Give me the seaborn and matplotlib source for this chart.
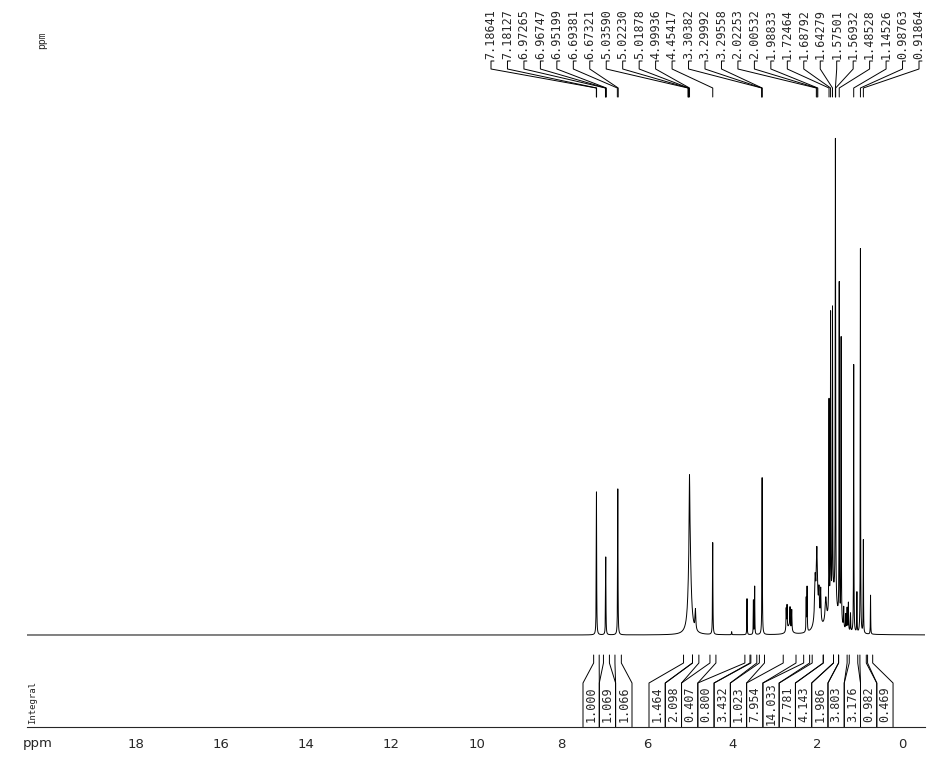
import numpy as np
import pandas as pd
import matplotlib
matplotlib.use("Agg")
import matplotlib.pyplot as plt
import seaborn as sns

# peak table: position (ppm), height (baseline = 0), half width (ppm)
peak_ppm = [7.184, 6.966, 6.683, 4.995, 5.000, 4.86, 4.455, 4.01,
            3.65, 3.50, 3.47, 3.295,
            2.73, 2.71, 2.64, 2.60, 2.66, 2.26, 2.24,
            2.05, 2.01, 1.96, 1.92, 2.00,
            1.80, 1.7246, 1.6879, 1.6428, 1.5750, 1.5693, 1.4853, 1.44, 1.62,
            1.38, 1.33, 1.30, 1.27, 1.22, 1.1453, 1.07, 0.9876, 0.9186, 0.75]
peak_height = [143, 78, 146, 100, 62, 20, 92, 3,
               36, 34, 48, 157,
               22, 24, 20, 21, 8, 33, 44,
               40, 60, 25, 32, 20,
               25, 210, 290, 285, 420, 120, 335, 285, 40,
               20, 15, 22, 28, 18, 268, 40, 385, 93, 39]
peak_hwhm = [0.005, 0.005, 0.005, 0.035, 0.008, 0.01, 0.005, 0.005,
             0.004, 0.004, 0.004, 0.005,
             0.006, 0.006, 0.006, 0.006, 0.05, 0.005, 0.005,
             0.015, 0.015, 0.01, 0.008, 0.06,
             0.02, 0.004, 0.004, 0.004, 0.004, 0.004, 0.004, 0.004, 0.1,
             0.005, 0.005, 0.005, 0.005, 0.005, 0.004, 0.004, 0.004, 0.004, 0.004]

# peak pick labels
peak_labels = ["7.18641", "7.18127", "6.97265", "6.96747", "6.95199", "6.69381", "6.67321",
               "5.03590", "5.02230", "5.01878", "4.99936", "4.45417", "3.30382", "3.29992",
               "3.29558", "2.02253", "2.00532", "1.98833", "1.72464", "1.68792", "1.64279",
               "1.57501", "1.56932", "1.48528", "1.14526", "0.98763", "0.91864"]

# integrals: region start / end (ppm) and value
integral_start = [7.25, 7.02, 6.75, 5.14, 4.93, 4.52, 3.70, 3.56, 3.36,
                  2.80, 2.32, 2.12, 1.86, 1.62, 1.50, 1.25, 1.00, 0.82]
integral_end = [7.12, 6.88, 6.60, 4.93, 4.78, 4.38, 3.58, 3.42, 3.24,
                2.50, 2.18, 1.86, 1.62, 1.50, 1.30, 1.05, 0.85, 0.70]
integral_value = ["1.000", "1.069", "1.066", "1.464", "2.098", "0.407", "0.800", "3.432", "1.023",
                  "7.954", "14.033", "7.781", "4.143", "1.986", "3.803", "3.176", "0.982", "0.469"]

x_ticks = [0, 2, 4, 6, 8, 10, 12, 14, 16, 18]


def px2ppm(px):
    return (902.5 - px) / 42.6


xlim = (px2ppm(27), px2ppm(925))

# spectrum as sum of lorentzians
ppm = np.linspace(xlim[1], xlim[0], 60000)
intensity = np.zeros_like(ppm)
for p, h, w in zip(peak_ppm, peak_height, peak_hwhm):
    intensity += h * w**2 / ((ppm - p)**2 + w**2)
spec = pd.DataFrame({"ppm": ppm, "intensity": intensity})

sns.set_style("white")
fig = plt.figure(figsize=(9.46, 7.68), dpi=100)


def px_axes(x0, y0, x1, y1):
    return fig.add_axes([x0 / 946, 1 - y1 / 768, (x1 - x0) / 946, (y1 - y0) / 768])


# main spectrum
ax = px_axes(27, 100, 925, 640)
sns.lineplot(data=spec, x="ppm", y="intensity", ax=ax, color="black",
             linewidth=0.7, estimator=None, sort=False)
ax.set_xlim(xlim)
ax.set_ylim(-5, 535)
ax.axis("off")

# peak labels on top
ax_top = px_axes(27, 0, 925, 100)
ax_top.set_xlim(xlim)
ax_top.set_ylim(100, 0)
ax_top.axis("off")
label_x = np.linspace(px2ppm(491), px2ppm(919), len(peak_labels))
for xi, lab in zip(label_x, peak_labels):
    pk = float(lab)
    ax_top.plot([xi - 0.07, xi, xi, pk, pk], [61, 61, 69, 88, 97], color="black", lw=0.7)
    ax_top.text(xi, 59, lab, rotation=90, ha="center", va="bottom",
                family="DejaVu Sans Mono", fontsize=8.5)

fig.text(42 / 946, 1 - 40 / 768, "ppm", rotation=90, ha="center", va="center",
         family="DejaVu Sans Mono", fontsize=7)

# integral strip + ppm axis
ax_int = px_axes(27, 640, 925, 727)
ax_int.set_xlim(xlim)
ax_int.set_ylim(727, 640)
for s in ["top", "left", "right"]:
    ax_int.spines[s].set_visible(False)
ax_int.spines["bottom"].set_linewidth(0.8)
ax_int.set_yticks([])
ax_int.set_xticks(x_ticks + [20])
ax_int.set_xticklabels([str(t) for t in x_ticks] + [""], fontsize=9.5)
ax_int.set_xticks(np.arange(-0.5, 20.5, 0.1), minor=True)
ax_int.tick_params(axis="x", which="major", direction="inout", length=8, width=0.8, pad=4)
ax_int.tick_params(axis="x", which="minor", direction="in", length=3, width=0.6)
ax_int.text(20.3, 737, "ppm", ha="center", va="top", fontsize=9.5,
            transform=ax_int.transData, clip_on=False)

edges = [583, 599.3, 615.6, 632] + [649 + k * 16.27 for k in range(16)]
box_left = edges[0:3] + edges[4:19]
box_right = edges[1:4] + edges[5:20]
for L, R, s, e, v in zip(box_left, box_right, integral_start, integral_end, integral_value):
    l_ppm, r_ppm = px2ppm(L), px2ppm(R)
    ax_int.plot([l_ppm, l_ppm, s, s], [727, 683, 663, 655], color="black", lw=0.7)
    ax_int.plot([r_ppm, r_ppm, e, e], [727, 683, 663, 655], color="black", lw=0.7)
    ax_int.text((l_ppm + r_ppm) / 2, 704, v, rotation=90, ha="center", va="center",
                family="DejaVu Sans Mono", fontsize=8.5)

fig.text(33 / 946, 1 - 703 / 768, "Integral", rotation=90, ha="center", va="center",
         family="DejaVu Sans Mono", fontsize=6.5)

plt.savefig("out.png", dpi=100)
